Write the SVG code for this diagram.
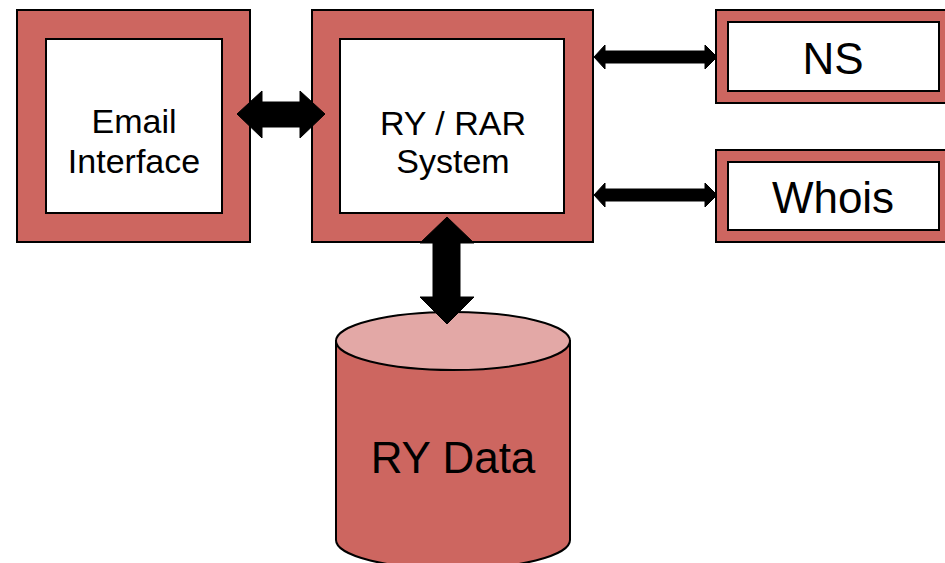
<svg xmlns="http://www.w3.org/2000/svg" width="945" height="563" viewBox="0 0 945 563">
<style>
.outer{fill:#CD6660;stroke:#000;stroke-width:2}
.inner{fill:#fff;stroke:#000;stroke-width:2}
.lbl{font-family:"Liberation Sans",Arial,sans-serif;fill:#000;text-anchor:middle}
.arr{fill:#000;stroke:#000;stroke-width:1}
</style>
<rect width="945" height="563" fill="#fff"/>
<g id="email">
<rect class="outer" x="17" y="10" width="233" height="232"/>
<rect class="inner" x="46" y="39" width="176" height="174"/>
<text class="lbl" font-size="34" x="134" y="133">Email</text>
<text class="lbl" font-size="34" x="134" y="173">Interface</text>
</g>
<g id="ryrar">
<rect class="outer" x="312" y="10" width="281" height="232"/>
<rect class="inner" x="340" y="39" width="224" height="174"/>
<text class="lbl" font-size="34" x="453" y="135">RY / RAR</text>
<text class="lbl" font-size="34" x="453" y="173">System</text>
</g>
<g id="ns">
<rect class="outer" x="716" y="10" width="240" height="93"/>
<rect class="inner" x="728" y="22" width="211" height="69"/>
<text class="lbl" font-size="44" x="833" y="74">NS</text>
</g>
<g id="whois">
<rect class="outer" x="716" y="150" width="240" height="92"/>
<rect class="inner" x="728" y="162" width="211" height="68"/>
<text class="lbl" font-size="44" x="833" y="213">Whois</text>
</g>
<g id="rydata">
<path class="outer" d="M336,341 L336,540 A117,29 0 0 0 570,540 L570,341 Z"/>
<ellipse cx="453" cy="341" rx="117" ry="29" fill="#E3A8A6" stroke="#000" stroke-width="2"/>
<text class="lbl" font-size="44" x="453" y="473">RY Data</text>
</g>
<g id="connectors">
<polygon class="arr" points="237,114 262,91 262,102 300,102 300,91 325,114 300,138 300,127 262,127 262,138"/>
<polygon class="arr" points="594,57 605,45 605,51 705,51 705,45 717,57 705,69 705,63 605,63 605,69"/>
<polygon class="arr" points="594,195 605,183 605,189 705,189 705,183 717,195 705,207 705,201 605,201 605,207"/>
<polygon class="arr" points="447,217 474,243 460,243 460,297 474,297 447,324 420,297 433,297 433,243 420,243"/>
</g>
</svg>
